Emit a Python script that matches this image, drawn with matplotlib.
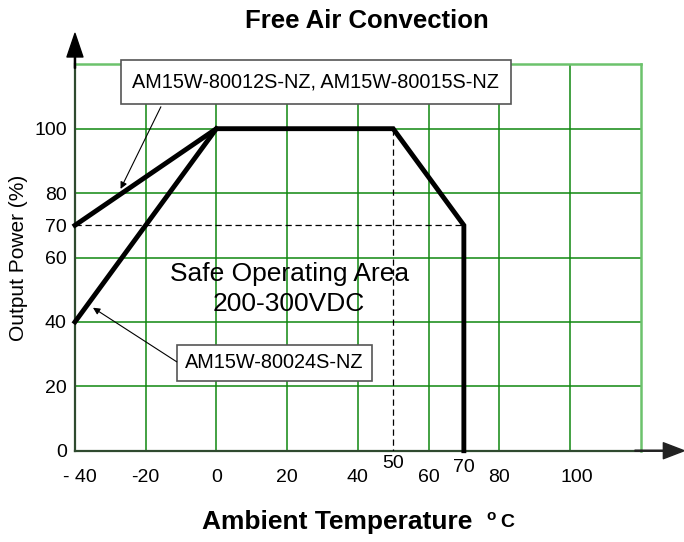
import matplotlib
matplotlib.use("Agg")
import matplotlib.pyplot as plt
from matplotlib.patches import Rectangle
from matplotlib.transforms import blended_transform_factory, ScaledTranslation

plt.rcParams['font.family'] = ['Liberation Sans', 'DejaVu Sans']

# Data
curve_a_x = [-40, 0, 50, 70, 70]
curve_a_y = [70, 100, 100, 70, 0]
curve_b_x = [-40, 0]
curve_b_y = [40, 100]
dash_h_x = [-40, 70]
dash_h_y = [70, 70]
dash_v_x = [50, 50]
dash_v_y = [100, 0]

x_major = [-40, -20, 0, 20, 40, 60, 80, 100]
x_major_labels = ['- 40', '-20', '0', '20', '40', '60', '80', '100']
y_ticks = [0, 20, 40, 60, 70, 80, 100]
y_labels = ['0', '20', '40', '60', '70', '80', '100']
grid_x = [-20, 0, 20, 40, 60, 80, 100]
grid_y = [20, 40, 60, 80, 100]

fig = plt.figure(figsize=(6.84, 5.42), dpi=100)
ax = fig.add_axes([0.1096, 0.1684, 0.827, 0.713])
ax.set_xlim(-40, 120)
ax.set_ylim(0, 120)

green = '#0f880f'
light_green = '#6cc26c'
for gx in grid_x:
    ax.axvline(gx, color=green, lw=1.1, zorder=1)
for gy in grid_y:
    ax.axhline(gy, color=green, lw=1.1, zorder=1)

for s in ['top', 'right']:
    ax.spines[s].set_color(light_green)
    ax.spines[s].set_linewidth(1.8)
for s in ['left', 'bottom']:
    ax.spines[s].set_color('#2f4a2f')
    ax.spines[s].set_linewidth(1.6)

ax.plot(curve_a_x, curve_a_y, color='black', lw=3.5, solid_joinstyle='miter', zorder=4, clip_on=False)
ax.plot(curve_b_x, curve_b_y, color='black', lw=3.5, zorder=4, clip_on=False)
ax.plot(dash_h_x, dash_h_y, color='black', lw=0.9, ls=(0, (5, 3)), zorder=3)
ax.plot(dash_v_x, dash_v_y, color='black', lw=0.9, ls=(0, (5, 3)), zorder=3)

ax.set_xticks(x_major)
ax.set_xticklabels(x_major_labels)
ax.set_xticks([50], minor=True)
ax.set_xticklabels(['50'], minor=True)
ax.tick_params(axis='x', which='major', length=0, pad=13, labelsize=14)
ax.tick_params(axis='x', which='minor', length=0, pad=3, labelsize=14)
ax.set_yticks(y_ticks)
ax.set_yticklabels(y_labels)
ax.tick_params(axis='y', length=0, pad=6, labelsize=14)

# small horizontal offsets of a few tick labels as in the reference
for lab in ax.get_xticklabels():
    if lab.get_text() == '- 40':
        lab.set_transform(lab.get_transform() + ScaledTranslation(5 / 100, 0, fig.dpi_scale_trans))
    if lab.get_text() == '100':
        lab.set_transform(lab.get_transform() + ScaledTranslation(7 / 100, 0, fig.dpi_scale_trans))

trans = blended_transform_factory(ax.transData, ax.transAxes)
ax.text(70, -0.022, '70', transform=trans, ha='center', va='top', fontsize=14)

ax.set_ylabel('Output Power (%)', fontsize=15, labelpad=4)

# axis arrows
ax.annotate('', xy=(0, 1.08), xytext=(0, 0.99), xycoords='axes fraction',
            arrowprops=dict(width=0.8, headwidth=11.5, headlength=17, color='black', shrink=0), annotation_clip=False)
ax.annotate('', xy=(1.077, 0), xytext=(0.99, 0), xycoords='axes fraction',
            arrowprops=dict(width=0.8, headwidth=11.5, headlength=15, color='#222222', shrink=0), annotation_clip=False)

# title and x label
fig.text(0.536, 0.962, 'Free Air Convection', ha='center', va='center', fontsize=18.5, fontweight='bold')
fig.text(0.4934, 0.036, 'Ambient Temperature', ha='center', va='center', fontsize=19, fontweight='bold')
fig.text(0.718, 0.048, 'o', ha='center', va='center', fontsize=11, fontweight='bold')
fig.text(0.741, 0.036, 'C', ha='center', va='center', fontsize=14, fontweight='bold')

# annotation boxes
ax.add_patch(Rectangle((-27.0, 107.8), 110.3, 13.6, facecolor='white', edgecolor='#555555', lw=1.2, zorder=5, clip_on=False))
ax.text(28.15, 114.6, 'AM15W-80012S-NZ, AM15W-80015S-NZ', ha='center', va='center', fontsize=14.3, zorder=6)
ax.annotate('', xy=(-27.1, 81.3), xytext=(-15.7, 106.8),
            arrowprops=dict(arrowstyle='-|>', color='black', lw=0.8, mutation_scale=10, shrinkA=0, shrinkB=0), zorder=5)

ax.add_patch(Rectangle((-11.2, 21.7), 55.1, 11.1, facecolor='white', edgecolor='#555555', lw=1.2, zorder=5))
ax.text(16.35, 27.25, 'AM15W-80024S-NZ', ha='center', va='center', fontsize=14.3, zorder=6)
ax.annotate('', xy=(-34.9, 44.4), xytext=(-11.2, 27.6),
            arrowprops=dict(arrowstyle='-|>', color='black', lw=0.8, mutation_scale=10, shrinkA=0, shrinkB=0), zorder=5)

ax.text(20.6, 55.0, 'Safe Operating Area', ha='center', va='center', fontsize=19, zorder=6)
ax.text(20.6, 45.7, '200-300VDC', ha='center', va='center', fontsize=19, zorder=6)

fig.savefig('out.png', dpi=100)
